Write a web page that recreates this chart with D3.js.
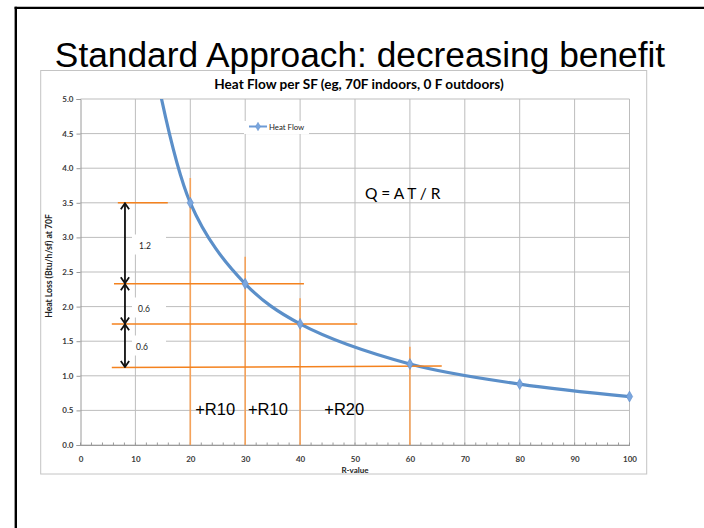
<!DOCTYPE html>
<html>
<head>
<meta charset="utf-8">
<script src="https://cdn.jsdelivr.net/npm/d3@7"></script>
<style>
  html, body { margin: 0; padding: 0; background: #fff; }
  svg { display: block; }
</style>
</head>
<body>
<svg id="chart" width="704" height="528"></svg>
<script>
// ---- data ----
const rValues = [10, 20, 30, 40, 60, 80, 100];
const heatFlow = [7.0, 3.5, 2.33, 1.75, 1.17, 0.88, 0.70];
const xTicks = [0, 10, 20, 30, 40, 50, 60, 70, 80, 90, 100];
const yTicks = [0.0, 0.5, 1.0, 1.5, 2.0, 2.5, 3.0, 3.5, 4.0, 4.5, 5.0];
const seriesName = "Heat Flow";
const slideTitle = "Standard Approach: decreasing benefit";
const chartTitle = "Heat Flow per SF (eg, 70F indoors, 0 F outdoors)";
const xTitle = "R-value";
const yTitle = "Heat Loss (Btu/h/sf) at 70F";
// annotation lines (data units)
const hLines = [ // [value at left, value at right, R from, R to]
  [3.5, 3.5, 6.8, 15.9],
  [2.33, 2.33, 6.1, 40.7],
  [1.75, 1.75, 5.7, 50.4],
  [1.12, 1.14, 5.7, 65.8]
];
const vLines = [ // [R, top value]
  [20, 3.86], [30, 2.72], [40, 2.12], [60, 1.42]
];
const arrowSpans = [[3.5, 2.33], [2.33, 1.75], [1.75, 1.12]];
const arrowLabels = ["1.2", "0.6", "0.6"];
const stepLabels = [["+R10", 20.9], ["+R10", 30.5], ["+R20", 44.4]];
const formula = "Q = A T / R";

const svg = d3.select("#chart");

// ---- layout ----
const x = d3.scaleLinear().domain([0, 100]).range([80.5, 629.5]);
const y = d3.scaleLinear().domain([0, 5]).range([445, 99]);

// slide frame
svg.append("line").attr("x1", 15.8).attr("x2", 15.8).attr("y1", 6.7).attr("y2", 528)
  .attr("stroke", "#000").attr("stroke-width", 2.4);
svg.append("line").attr("x1", 14.6).attr("x2", 704).attr("y1", 7.9).attr("y2", 7.9)
  .attr("stroke", "#000").attr("stroke-width", 2.4);

// chart area border
svg.append("rect").attr("x", 40.7).attr("y", 70.5).attr("width", 606).attr("height", 403.5)
  .attr("fill", "none").attr("stroke", "#c4c4c4").attr("stroke-width", 1);

// slide title
svg.append("text").attr("x", 360).attr("y", 67)
  .attr("text-anchor", "middle")
  .attr("font-family", "Liberation Sans, Arial, sans-serif")
  .attr("font-size", 35.3).attr("fill", "#000")
  .text(slideTitle);

// chart title
svg.append("text").attr("x", 359).attr("y", 88.5)
  .attr("text-anchor", "middle")
  .attr("font-family", "Lato, Open Sans, sans-serif")
  .attr("font-weight", "bold")
  .attr("font-size", 13.6).attr("fill", "#000")
  .text(chartTitle);

// gridlines
const grid = svg.append("g");
grid.selectAll(".hg").data(yTicks).join("line")
  .attr("x1", x(0)).attr("x2", x(100))
  .attr("y1", d => y(d)).attr("y2", d => y(d))
  .attr("stroke", "#bdbdbd").attr("stroke-width", 1);
grid.selectAll(".vg").data(xTicks.slice(1)).join("line")
  .attr("x1", d => x(d)).attr("x2", d => x(d))
  .attr("y1", y(0)).attr("y2", y(5))
  .attr("stroke", "#bdbdbd").attr("stroke-width", 1);

// y axis
const yAxis = d3.axisLeft(y).tickValues(yTicks).tickFormat(d3.format(".1f")).tickSize(4).tickPadding(3);
const gy = svg.append("g").attr("transform", `translate(${x(0)},0)`).call(yAxis);
gy.select(".domain").attr("stroke", "#9a9a9a");
gy.selectAll(".tick line").attr("stroke", "#9a9a9a");
gy.selectAll(".tick text").attr("font-family", "Lato, Open Sans, sans-serif")
  .attr("font-size", 8).attr("font-weight", "bold").attr("fill", "#3a3a3a");

// x axis
const xAxis = d3.axisBottom(x).tickValues(xTicks).tickFormat(d3.format("d")).tickSize(0).tickPadding(11);
const gx = svg.append("g").attr("transform", `translate(0,${y(0)})`).call(xAxis);
gx.select(".domain").attr("stroke", "#9a9a9a");
gx.selectAll(".tick text").attr("font-family", "Lato, Open Sans, sans-serif")
  .attr("font-size", 8).attr("font-weight", "bold").attr("fill", "#3a3a3a");
// minor ticks (inside)
const minor = d3.range(0, 101, 2);
svg.append("g").selectAll("line").data(minor).join("line")
  .attr("x1", d => x(d)).attr("x2", d => x(d))
  .attr("y1", y(0)).attr("y2", y(0) - 2.5)
  .attr("stroke", "#9a9a9a").attr("stroke-width", 1);

// axis titles
svg.append("text").attr("x", x(50)).attr("y", 472.5).attr("text-anchor", "middle")
  .attr("font-family", "Lato, Open Sans, sans-serif").attr("font-weight", "bold")
  .attr("font-size", 8).attr("fill", "#222").text(xTitle);
svg.append("text").attr("transform", "translate(51.5,266) rotate(-90)").attr("text-anchor", "middle")
  .attr("font-family", "Lato, Open Sans, sans-serif").attr("font-weight", "bold")
  .attr("font-size", 8.6).attr("fill", "#222").text(yTitle);

// legend
svg.append("rect").attr("x", 244).attr("y", 121).attr("width", 65).attr("height", 13).attr("fill", "#fff");
svg.append("line").attr("x1", 249).attr("x2", 267).attr("y1", 126.5).attr("y2", 126.5)
  .attr("stroke", "#6d9bd6").attr("stroke-width", 2);
svg.append("path").attr("d", d3.symbol(d3.symbolDiamond, 20)())
  .attr("transform", "translate(258,126.5)").attr("fill", "#7aa6de").attr("stroke", "#5d8ccb").attr("stroke-width", 0.5);
svg.append("text").attr("x", 269).attr("y", 129.5)
  .attr("font-family", "Lato, Open Sans, sans-serif").attr("font-size", 7.8).attr("fill", "#222")
  .text(seriesName);

// orange annotation lines
const ann = svg.append("g");
ann.selectAll(".vl").data(vLines).join("line")
  .attr("x1", d => x(d[0])).attr("x2", d => x(d[0]))
  .attr("y1", d => y(d[1])).attr("y2", y(0))
  .attr("stroke", "#f5a25a").attr("stroke-width", 1.6);

// series line
svg.append("defs").append("clipPath").attr("id", "plotclip")
  .append("rect").attr("x", x(0)).attr("y", y(5)).attr("width", x(100) - x(0) + 8).attr("height", y(0) - y(5));
const pts = rValues.map((r, i) => [r, heatFlow[i]]);
const line = d3.line().x(d => x(d[0])).y(d => y(d[1])).curve(d3.curveCatmullRom.alpha(0.5));
svg.append("path").datum(pts).attr("clip-path", "url(#plotclip)")
  .attr("d", line).attr("fill", "none").attr("stroke", "#5b8fc9").attr("stroke-width", 3.2);

ann.raise();
ann.selectAll(".hl").data(hLines).join("line")
  .attr("x1", d => x(d[2])).attr("x2", d => x(d[3]))
  .attr("y1", d => y(d[0])).attr("y2", d => y(d[1]))
  .attr("stroke", "#f4821e").attr("stroke-width", 1.5);

// markers
svg.append("g").attr("clip-path", "url(#plotclip)").selectAll("path").data(pts).join("path")
  .attr("d", d3.symbol(d3.symbolDiamond, 34)())
  .attr("transform", d => `translate(${x(d[0])},${y(d[1])})`)
  .attr("fill", "#7aa6de").attr("stroke", "#5d8ccb").attr("stroke-width", 0.6);

// arrows
const defs = svg.select("defs");
defs.append("marker").attr("id", "chev").attr("viewBox", "0 0 10 10")
  .attr("refX", 9).attr("refY", 5).attr("markerWidth", 5.5).attr("markerHeight", 5.5)
  .attr("markerUnits", "strokeWidth").attr("orient", "auto-start-reverse")
  .append("path").attr("d", "M3,0.8 L9,5 L3,9.2").attr("fill", "none").attr("stroke", "#111").attr("stroke-width", 1.8);

const ax = x(8.1);
// label backgrounds
svg.append("g").selectAll("rect").data(arrowSpans).join("rect")
  .attr("x", 132).attr("y", (d, i) => [245.5, 308.5, 346.5][i] - 11)
  .attr("width", 34).attr("height", 20).attr("fill", "#fff");
svg.append("g").selectAll("line").data(arrowSpans).join("line")
  .attr("x1", ax).attr("x2", ax)
  .attr("y1", d => y(d[0]) + 0.5).attr("y2", d => y(d[1]) - 0.5)
  .attr("stroke", "#111").attr("stroke-width", 1.8)
  .attr("marker-start", "url(#chev)").attr("marker-end", "url(#chev)");
svg.append("g").selectAll("text").data(arrowSpans).join("text")
  .attr("x", (d, i) => i === 0 ? 145 : (i === 1 ? 144 : 142))
  .attr("y", (d, i) => [248.5, 311.5, 349.5][i])
  .attr("text-anchor", "middle")
  .attr("font-family", "Lato, Open Sans, sans-serif").attr("font-size", 8.5).attr("fill", "#222")
  .text((d, i) => arrowLabels[i]);

// step labels
svg.append("g").selectAll("text").data(stepLabels).join("text")
  .attr("x", d => x(d[1])).attr("y", y(0.43))
  .attr("font-family", "Liberation Sans, Arial, sans-serif").attr("font-size", 16.5).attr("fill", "#000")
  .text(d => d[0]);

// formula
svg.append("text").attr("x", x(51.8)).attr("y", y(3.55))
  .attr("font-family", "Lato, Open Sans, sans-serif").attr("font-size", 15.5).attr("fill", "#000")
  .text(formula);
</script>
</body>
</html>
